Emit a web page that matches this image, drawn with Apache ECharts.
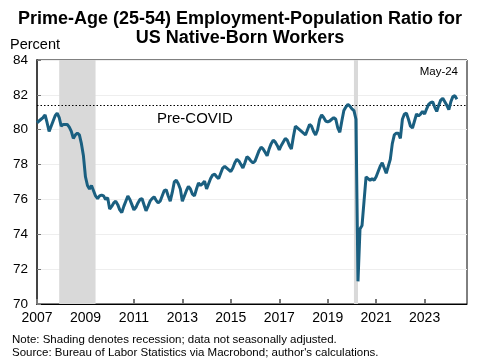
<!DOCTYPE html>
<html><head><meta charset="utf-8">
<script src="https://cdn.jsdelivr.net/npm/echarts@6/dist/echarts.min.js"></script>
<style>html,body{margin:0;padding:0;background:#fff}#c{width:480px;height:360px}</style>
</head><body><div id="c"></div>
<script>
// Monthly values, starting January 2007 (percent)
const startYear = 2007;
const epop = [
  // 2007
  80.4, 80.5, 80.6, 80.7, 80.85, 80.4, 79.9, 80.2, 80.5, 80.8, 80.95, 80.7,
  // 2008
  80.2, 80.3, 80.3, 80.3, 80.15, 79.9, 79.5, 79.7, 79.8, 79.7, 79.2, 78.5,
  // 2009
  77.3, 76.8, 76.6, 76.8, 76.5, 76.2, 76.05, 76.2, 76.25, 76.2, 76.0, 76.1,
  // 2010
  75.45, 75.6, 75.8, 75.9, 75.7, 75.4, 75.25, 75.6, 75.9, 76.2, 76.0, 75.7,
  // 2011
  75.4, 75.55, 75.8, 76.0, 76.05, 75.7, 75.35, 75.6, 75.9, 76.05, 76.15, 75.95,
  // 2012
  75.8, 75.9, 76.2, 76.5, 76.55, 76.2, 75.9, 76.4, 77.0, 77.1, 76.9, 76.6,
  // 2013
  75.9, 76.2, 76.5, 76.75, 76.6, 76.3, 76.2, 76.6, 76.95, 76.8, 76.9, 77.05,
  // 2014
  76.6, 76.9, 77.2, 77.4, 77.45, 77.3, 77.2, 77.5, 77.8, 77.9, 77.8, 77.7,
  // 2015
  77.6, 77.8, 78.1, 78.3, 78.2, 78.0, 77.8, 78.1, 78.45, 78.35, 78.2, 78.1,
  // 2016
  78.2, 78.5, 78.8, 79.0, 78.9, 78.7, 78.5, 78.9, 79.2, 79.4, 79.3, 79.1,
  // 2017
  78.85, 79.1, 79.3, 79.5, 79.4, 79.1, 78.9, 79.6, 80.2, 80.1, 80.0, 79.9,
  // 2018
  79.8, 79.7, 80.0, 80.3, 80.2, 79.9, 79.7, 80.0, 80.6, 80.85, 80.7, 80.5,
  // 2019
  80.45, 80.5, 80.6, 80.7, 80.6, 80.1, 79.85, 80.5, 81.1, 81.3, 81.45, 81.35,
  // 2020
  81.2, 81.1, 80.6, 71.3, 74.3, 74.5, 75.9, 77.3, 77.2, 77.1, 77.2, 77.1,
  // 2021
  77.3, 77.6, 77.9, 78.1, 77.8, 77.5, 77.9, 78.3, 79.2, 79.7, 79.8, 79.8,
  // 2022
  79.5, 80.6, 80.9, 80.95, 80.6, 80.2, 80.1, 80.5, 80.9, 80.8, 80.9, 81.05,
  // 2023
  80.9, 81.2, 81.45, 81.55, 81.6, 81.3, 81.05, 81.4, 81.7, 81.8, 81.6, 81.4,
  // 2024
  81.15, 81.6, 81.9, 81.95, 81.75
];
const preCovid = 81.4;
const recessions = [[2007 + 11/12, 2009 + 5/12], [2020 + 1/12, 2020 + 3/12]];
const xMin = 2007, xMax = 2024.75, xStep = 2;
const yMin = 70, yMax = 84, yStep = 2;
const titleLines = ['Prime-Age (25-54) Employment-Population Ratio for', 'US Native-Born Workers'];
const notes = ['Note: Shading denotes recession; data not seasonally adjusted.',
               "Source: Bureau of Labor Statistics via Macrobond; author's calculations."];
const lastLabel = 'May-24';

const seriesData = epop.map((v, i) => [startYear + i / 12, v]);
const font = '"Liberation Sans", Arial, sans-serif';

const chart = echarts.init(document.getElementById('c'), null, {renderer: 'canvas'});
chart.setOption({
  animation: false,
  backgroundColor: '#fff',
  title: {
    text: titleLines.join('\n'), left: 'center', top: 5,
    textStyle: {fontFamily: font, fontSize: 18, fontWeight: 'bold', color: '#000', lineHeight: 19}
  },
  grid: {left: 37, right: 13, top: 60, bottom: 56, show: true, borderColor: '#000', borderWidth: 1},
  xAxis: {
    type: 'value', min: xMin, max: xMax, interval: xStep,
    axisLine: {lineStyle: {color: '#000', width: 1}},
    axisTick: {inside: true, length: 5, lineStyle: {color: '#777', width: 2}},
    axisLabel: {fontFamily: font, fontSize: 14, color: '#000', margin: 7,
      formatter: v => String(Math.round(v)), showMaxLabel: false},
    splitLine: {show: false}
  },
  yAxis: {
    type: 'value', min: yMin, max: yMax, interval: yStep,
    name: 'Percent', nameLocation: 'end', nameGap: 8,
    nameTextStyle: {fontFamily: font, fontSize: 14.5, color: '#000', align: 'left', padding: [0, 0, 0, -27]},
    axisLine: {show: true, lineStyle: {color: '#444', width: 2}},
    axisTick: {show: true, inside: true, length: 4, lineStyle: {color: '#777', width: 1}},
    axisLabel: {fontFamily: font, fontSize: 13.5, color: '#000', margin: 9},
    splitLine: {show: true, lineStyle: {color: '#eeeeee', width: 1}}
  },
  series: [{
    type: 'line', data: seriesData, showSymbol: false, smooth: false,
    lineStyle: {color: '#1a5f80', width: 3}, z: 5,
    markArea: {silent: true, itemStyle: {color: '#d9d9d9'},
      data: recessions.map(r => [{xAxis: r[0]}, {xAxis: r[1]}])},
    markLine: {silent: true, symbol: 'none', label: {show: false},
      lineStyle: {color: '#000', type: [1.5, 2], width: 1},
      data: [{yAxis: preCovid}]}
  }],
  graphic: [
    {type: 'text', left: 157, top: 111, style: {text: 'Pre-COVID', font: '15px ' + font, fill: '#000'}},
    {type: 'text', right: 22, top: 66, style: {text: lastLabel, font: '11.5px ' + font, fill: '#000'}},
    {type: 'text', left: 12, top: 333, style: {text: notes.join('\n'), font: '11.5px ' + font, fill: '#000', lineHeight: 13}}
  ]
});
</script></body></html>
